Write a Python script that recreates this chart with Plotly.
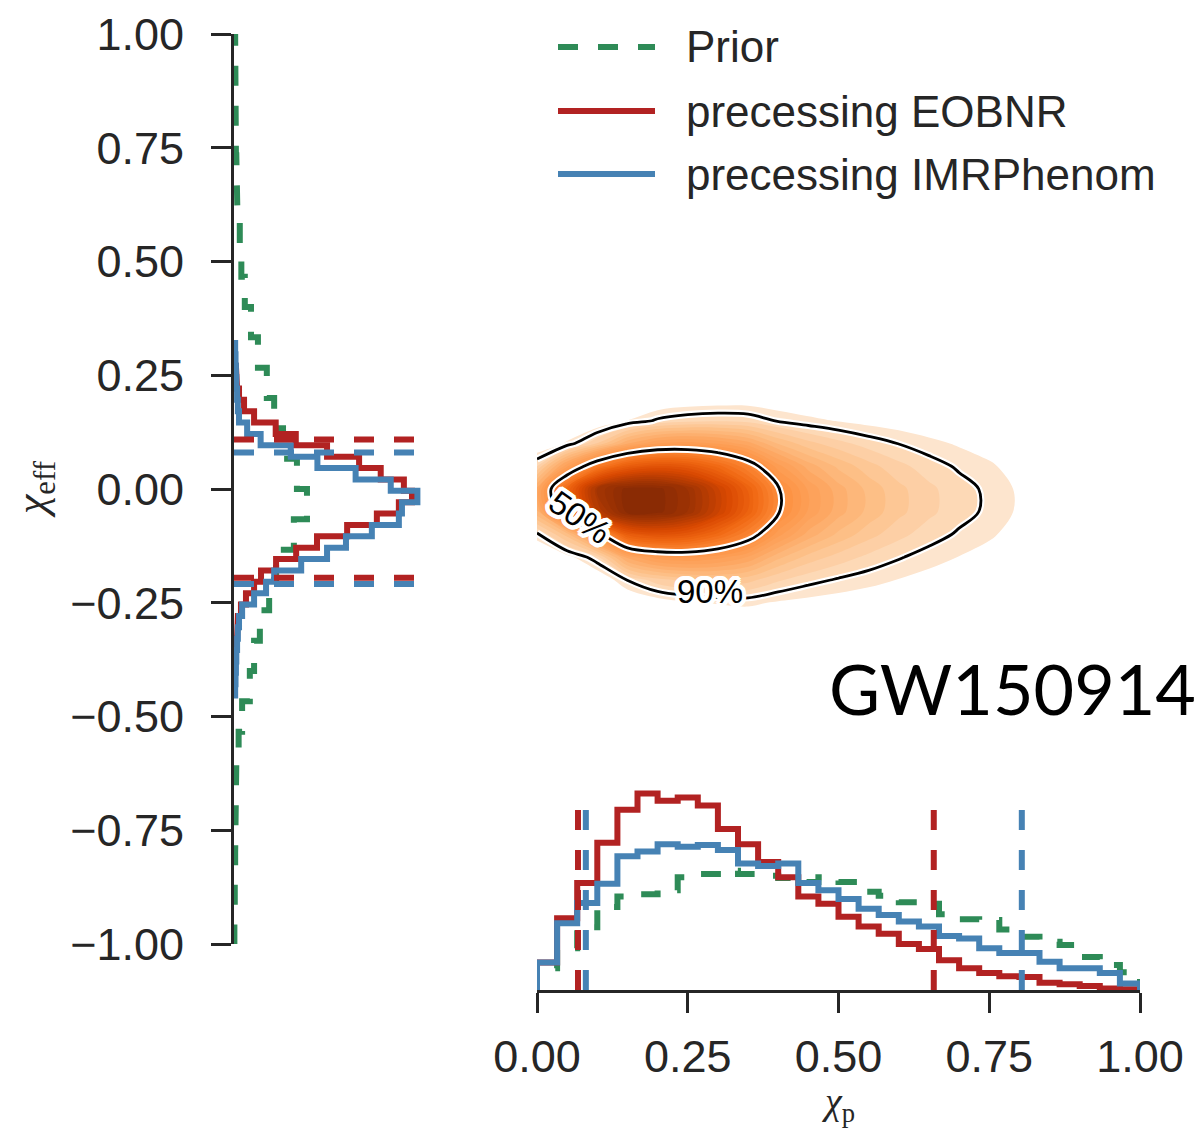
import numpy as np
import plotly.graph_objects as go

W, H = 1204, 1131

# ---------------- data ----------------
# chi_p marginal (bottom panel), 30 bins on [0, 1], probability density
chip_edges = np.linspace(0.0, 1.0, 31)
chip_prior = [0.27, 0.52, 0.78, 1.03, 1.16, 1.19, 1.24, 1.40, 1.44, 1.48, 1.44, 1.42, 1.39, 1.34, 1.40,
              1.34, 1.22, 1.17, 1.09, 1.07, 0.94, 0.88, 0.87, 0.75, 0.66, 0.60, 0.56, 0.41, 0.31, 0.22]
chip_eobnr = [0.34, 0.89, 1.33, 1.83, 2.24, 2.44, 2.35, 2.39, 2.29, 2.00, 1.81, 1.59, 1.40, 1.16, 1.07,
              0.91, 0.79, 0.70, 0.57, 0.51, 0.37, 0.27, 0.21, 0.17, 0.16, 0.09, 0.07, 0.05, 0.02, 0.01]
chip_imr = [0.34, 0.83, 1.08, 1.32, 1.66, 1.72, 1.81, 1.78, 1.80, 1.74, 1.57, 1.54, 1.57, 1.33, 1.24,
            1.13, 1.01, 0.93, 0.85, 0.79, 0.67, 0.64, 0.52, 0.46, 0.46, 0.35, 0.27, 0.27, 0.21, 0.08]
chip_eobnr_ci = [0.068, 0.658]
chip_imr_ci = [0.081, 0.804]

# chi_eff marginal (left panel); posterior bins ascending in chi_eff
chieff_edges_post = np.round(-0.454 + 0.025 * np.arange(32), 3)
chieff_eobnr = [0.00, 0.01, 0.03, 0.04, 0.05, 0.08, 0.10, 0.18, 0.31, 0.52, 0.70, 1.09, 1.61, 2.15, 2.93, 3.70,
                4.27, 4.61, 4.40, 3.80, 3.24, 2.41, 1.60, 1.08, 0.52, 0.26, 0.13, 0.08, 0.05, 0.03, 0.01]
chieff_imr = [0.03, 0.04, 0.05, 0.06, 0.08, 0.10, 0.13, 0.21, 0.52, 0.83, 1.04, 1.74, 2.41, 2.90, 3.57, 4.27,
              4.35, 4.75, 4.06, 3.15, 2.16, 1.47, 0.69, 0.34, 0.13, 0.10, 0.08, 0.06, 0.05, 0.04, 0.03]
chieff_edges_prior = np.linspace(-1.0, 1.0, 31)
chieff_prior = [0.01, 0.02, 0.03, 0.03, 0.05, 0.06, 0.12, 0.21, 0.41, 0.52, 0.67, 0.91, 1.09, 1.55, 1.89,
                1.63, 1.27, 1.04, 0.85, 0.62, 0.44, 0.28, 0.19, 0.15, 0.09, 0.06, 0.05, 0.04, 0.03, 0.03]
chieff_eobnr_ci = [-0.195, 0.109]
chieff_imr_ci = [-0.209, 0.080]

# 2D posterior density (relative)
grid_chip = [0.00, 0.05, 0.10, 0.15, 0.20, 0.25, 0.30, 0.35, 0.40, 0.45,
             0.50, 0.55, 0.60, 0.65, 0.70, 0.75, 0.80, 0.85, 0.90, 0.95]
grid_chieff = [-0.35, -0.30, -0.25, -0.20, -0.15, -0.10, -0.05, 0.00, 0.05, 0.10, 0.15, 0.20, 0.25]
density_2d = [
    [0, 0, 0, 0.02, 0.06, 0.13, 0.24, 0.35, 0.34, 0.34, 0.35, 0.32, 0.30, 0.24, 0.19, 0.16, 0.10, 0.06, 0, 0],
    [0, 0, 0.02, 0.19, 0.56, 0.96, 1.39, 1.73, 1.54, 1.41, 1.33, 1.18, 1.06, 0.85, 0.67, 0.53, 0.35, 0.21, 0.05, 0.02],
    [0, 0.03, 0.2, 1.65, 3.45, 4.8, 5.7, 6.15, 4.95, 4.28, 3.75, 3.3, 2.78, 2.25, 1.8, 1.35, 0.9, 0.56, 0.18, 0.06],
    [0.05, 0.5, 2.0, 8.1, 12.6, 14.9, 15.6, 14.8, 11.4, 9.1, 7.6, 6.4, 5.25, 4.25, 3.4, 2.6, 1.75, 1.06, 0.4, 0.14],
    [0.9, 4.0, 10.0, 25.9, 32.2, 33.6, 31.7, 27.5, 20.2, 15.5, 12.6, 10.2, 8.3, 6.6, 5.3, 4.1, 2.7, 1.7, 0.72, 0.24],
    [7.0, 18.0, 36.0, 60.1, 64.5, 62.1, 54.5, 44.5, 31.7, 23.8, 18.7, 14.9, 11.9, 9.5, 7.5, 5.9, 4.0, 2.4, 1.13, 0.38],
    [22.0, 48.0, 78.0, 93.7, 93.6, 86.4, 73.3, 58.0, 40.7, 30.1, 23.4, 18.5, 14.6, 11.7, 9.3, 7.3, 4.9, 2.9, 1.45, 0.48],
    [26.0, 56.0, 84.0, 93.7, 93.6, 86.4, 73.3, 58.0, 40.7, 30.1, 23.4, 18.5, 14.6, 11.7, 9.3, 7.3, 4.9, 2.9, 1.45, 0.48],
    [11.0, 30.0, 48.0, 60.1, 64.5, 62.1, 54.5, 44.5, 31.7, 23.8, 18.7, 14.9, 11.9, 9.5, 7.5, 5.9, 4.0, 2.4, 1.13, 0.38],
    [1.5, 6.0, 14.0, 24.7, 30.7, 32.0, 30.2, 26.2, 19.2, 14.8, 12.0, 9.7, 7.9, 6.3, 5.0, 3.9, 2.6, 1.6, 0.69, 0.23],
    [0.05, 0.4, 1.58, 5.5, 8.6, 10.1, 10.6, 10.0, 7.7, 6.2, 5.2, 4.3, 3.6, 2.9, 2.3, 1.8, 1.2, 0.72, 0.27, 0.09],
    [0, 0.02, 0.11, 0.83, 1.73, 2.4, 2.85, 3.08, 2.48, 2.14, 1.88, 1.65, 1.39, 1.13, 0.9, 0.68, 0.45, 0.28, 0.09, 0.03],
    [0, 0, 0.01, 0.09, 0.26, 0.45, 0.65, 0.81, 0.72, 0.66, 0.62, 0.56, 0.50, 0.40, 0.32, 0.25, 0.17, 0.10, 0.02, 0.01],
]
# density thresholds enclosing the 90% and 50% credible regions
cred_levels = [8.0, 40.0]
cred_labels = ["90%", "50%"]
cred_label_pos = [(0.287, -0.225, 0), (0.072, -0.062, 35)]   # (chi_p, chi_eff, angle) for each label

legend_names = ["Prior", "precessing EOBNR", "precessing IMRPhenom"]
event_name = "GW150914"

# ---------------- style ----------------
GREEN, RED, BLUE = "#2e8b57", "#b22222", "#4682b4"
INK = "#262626"
FONT = "Liberation Sans, Arial, sans-serif"
LW = 6
DASH = "20px,20px"
CI_TOP_P = 2.28      # height of the chi_p interval markers (density units)
CI_LEN_EFF = 4.82    # length of the chi_eff interval markers (density units)


def step_path(edges, vals):
    xs, ys = [edges[0]], [0.0]
    for i, v in enumerate(vals):
        xs += [edges[i], edges[i + 1]]
        ys += [v, v]
    xs.append(edges[-1])
    ys.append(0.0)
    return xs, ys


fig = go.Figure()

# ---- bottom panel: chi_p ----
for vals, col, dash in [(chip_prior, GREEN, DASH), (chip_eobnr, RED, "solid"), (chip_imr, BLUE, "solid")]:
    xs, ys = step_path(chip_edges, vals)
    fig.add_trace(go.Scatter(x=xs, y=ys, mode="lines", xaxis="x2", yaxis="y2",
                             line=dict(color=col, width=LW, dash=dash), hoverinfo="skip"))
for ci, col in [(chip_eobnr_ci, RED), (chip_imr_ci, BLUE)]:
    for v in ci:
        fig.add_trace(go.Scatter(x=[v, v], y=[0, CI_TOP_P], mode="lines", xaxis="x2", yaxis="y2",
                                 line=dict(color=col, width=LW, dash=DASH), hoverinfo="skip"))

# ---- left panel: chi_eff ----
for edges, vals, col, dash in [(chieff_edges_prior, chieff_prior, GREEN, DASH),
                               (chieff_edges_post, chieff_eobnr, RED, "solid"),
                               (chieff_edges_post, chieff_imr, BLUE, "solid")]:
    ys, xs = step_path(edges, vals)
    fig.add_trace(go.Scatter(x=xs, y=ys, mode="lines", xaxis="x", yaxis="y",
                             line=dict(color=col, width=LW, dash=dash), hoverinfo="skip"))
for ci, col in [(chieff_eobnr_ci, RED), (chieff_imr_ci, BLUE)]:
    for v in ci:
        fig.add_trace(go.Scatter(x=[0, CI_LEN_EFF], y=[v, v], mode="lines", xaxis="x", yaxis="y",
                                 line=dict(color=col, width=LW, dash=DASH), hoverinfo="skip"))

# ---- 2D density ----
z = np.array(density_2d, dtype=float)
oranges = [[0.0, "rgba(255,255,255,0)"], [0.02, "rgba(255,255,255,0)"], [0.021, "#feede0"],
           [0.05, "#fde3c9"], [0.08, "#fdd6b1"], [0.15, "#fdc28b"], [0.25, "#fda762"],
           [0.40, "#fd8d3c"], [0.55, "#f16913"], [0.70, "#d94801"], [0.85, "#a63603"], [1.0, "#7f2704"]]
fig.add_trace(go.Contour(x=grid_chip, y=grid_chieff, z=z, xaxis="x3", yaxis="y3",
                         colorscale=oranges, zmin=0, zmax=100, showscale=False,
                         contours=dict(coloring="fill", start=2.6, end=100, size=2.8, showlines=False),
                         line=dict(width=0, smoothing=1.0), hoverinfo="skip"))
lev_lo, lev_hi = cred_levels
for col, wid in [("white", 7), ("black", 2.8)]:
    fig.add_trace(go.Contour(x=grid_chip, y=grid_chieff, z=z, xaxis="x3", yaxis="y3", showscale=False,
                             contours=dict(coloring="none", start=lev_lo, end=lev_hi, size=lev_hi - lev_lo),
                             line=dict(color=col, width=wid, smoothing=1.0), hoverinfo="skip"))

halo = ", ".join(f"{dx}px {dy}px 0px #ffffff" for dx, dy in
                 [(-3, -3), (3, -3), (-3, 3), (3, 3), (0, -4), (0, 4), (-4, 0), (4, 0),
                  (-2, -4), (2, -4), (-2, 4), (2, 4), (-4, -2), (4, -2), (-4, 2), (4, 2)])
for lab, (lx, ly, ang) in zip(cred_labels, cred_label_pos):
    fig.add_annotation(xref="x3", yref="y3", x=lx, y=ly, text=lab, showarrow=False, textangle=ang,
                       xanchor="center", yanchor="middle",
                       font=dict(family=FONT, size=33, color="black", shadow=halo))

# ---------------- layout ----------------
def px(xp):
    return xp / W


def py(yp):
    return 1 - yp / H


axis_common = dict(showgrid=False, zeroline=False, showline=True, linewidth=3, linecolor=INK,
                   ticks="outside", ticklen=20, tickwidth=3, tickcolor=INK,
                   tickfont=dict(family=FONT, size=45, color=INK), tickformat=".2f")

fig.update_layout(
    width=W, height=H, margin=dict(l=0, r=0, t=0, b=0, pad=0, autoexpand=False),
    paper_bgcolor="white", plot_bgcolor="rgba(0,0,0,0)", showlegend=False,
    xaxis=dict(domain=[px(234), px(434)], range=[0, 5.18], visible=False, anchor="y"),
    yaxis=dict(domain=[py(944), py(34)], range=[-1, 1], anchor="x",
               tickvals=[-1, -0.75, -0.5, -0.25, 0, 0.25, 0.5, 0.75, 1], ticklabelstandoff=18, **axis_common),
    xaxis2=dict(domain=[px(537), px(1140)], range=[0, 1], anchor="y2",
                tickvals=[0, 0.25, 0.5, 0.75, 1], ticklabelstandoff=5, **axis_common),
    yaxis2=dict(domain=[py(990), py(780)], range=[0, 2.608], visible=False, anchor="x2"),
    xaxis3=dict(domain=[px(537), px(1140)], range=[0, 1], visible=False, anchor="y3"),
    yaxis3=dict(domain=[py(944), py(34)], range=[-1, 1], visible=False, anchor="x3"),
)

# legend (drawn manually to match long line samples)
leg_rows = [47, 111, 174]
leg_styles = [(GREEN, DASH), (RED, "solid"), (BLUE, "solid")]
for name, ypix, (col, dash) in zip(legend_names, leg_rows, leg_styles):
    fig.add_shape(type="line", xref="paper", yref="paper", x0=px(558), x1=px(655), y0=py(ypix), y1=py(ypix),
                  line=dict(color=col, width=LW, dash=dash))
    fig.add_annotation(xref="paper", yref="paper", x=px(684), y=py(ypix), text=name, showarrow=False,
                       xanchor="left", yanchor="middle", font=dict(family=FONT, size=44, color=INK))

fig.add_annotation(xref="paper", yref="paper", x=px(1012), y=py(688), text=event_name, showarrow=False,
                   xanchor="center", yanchor="middle", font=dict(family="Lato, sans-serif", size=70, color="black"))

fig.add_annotation(xref="paper", yref="paper", x=px(35), y=py(489), text="<i>χ</i><sub>eff</sub>",
                   showarrow=False, textangle=-90, xanchor="center", yanchor="middle",
                   font=dict(family="Liberation Serif, DejaVu Serif, serif", size=44, color=INK))
fig.add_annotation(xref="paper", yref="paper", x=px(838), y=py(1130), text="<i>χ</i><sub>p</sub>",
                   showarrow=False, xanchor="center", yanchor="bottom",
                   font=dict(family="Liberation Serif, DejaVu Serif, serif", size=38, color=INK))

fig.write_html("out.html")
